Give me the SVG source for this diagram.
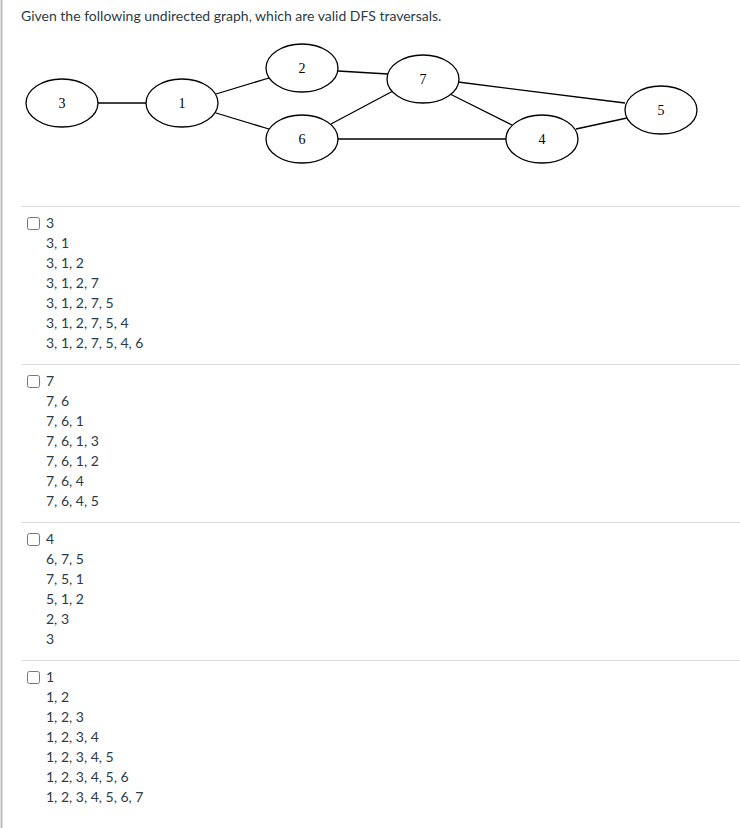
<svg xmlns="http://www.w3.org/2000/svg" width="740" height="828" viewBox="0 0 740 828">
<style>
.n ellipse{fill:#fff;stroke:#000;stroke-width:1.3}
.n text{font-family:"Liberation Serif",serif;font-size:14px;text-anchor:middle}
.t{font-family:Lato,"Liberation Sans",sans-serif;font-size:14px;fill:#2d3b45}
.sep{stroke:#dcdcdc;stroke-width:1}
.cb{fill:#fff;stroke:#777;stroke-width:1;}
</style>
<rect width="740" height="828" fill="#fff"/>
<line x1="1.5" y1="0" x2="1.5" y2="828" stroke="#bbb" stroke-width="2"/>
<text class="t" x="21" y="21" font-size="15">Given the following undirected graph, which are valid DFS traversals.</text>
<g id="connectors" stroke="#000" stroke-width="1.3">
<line x1="98" y1="103" x2="146" y2="103"/>
<line x1="216" y1="94" x2="269" y2="78"/>
<line x1="216" y1="113" x2="269" y2="129"/>
<line x1="338" y1="71" x2="388" y2="74"/>
<line x1="458" y1="82" x2="625" y2="103"/>
<line x1="331" y1="124" x2="393" y2="91"/>
<line x1="338" y1="139" x2="506" y2="139"/>
<line x1="450" y1="94" x2="512" y2="125"/>
<line x1="576" y1="129" x2="627" y2="118"/>
</g>
<g id="n3" class="n"><ellipse cx="62" cy="103" rx="36" ry="24"/><text x="62" y="108">3</text></g>
<g id="n1" class="n"><ellipse cx="182" cy="103" rx="36" ry="24"/><text x="182" y="108">1</text></g>
<g id="n2" class="n"><ellipse cx="302" cy="68" rx="36" ry="24"/><text x="302" y="73">2</text></g>
<g id="n6" class="n"><ellipse cx="302" cy="139" rx="36" ry="24"/><text x="302" y="144">6</text></g>
<g id="n7" class="n"><ellipse cx="423" cy="79" rx="36" ry="24"/><text x="423" y="84">7</text></g>
<g id="n4" class="n"><ellipse cx="542" cy="139" rx="36" ry="24"/><text x="542" y="144">4</text></g>
<g id="n5" class="n"><ellipse cx="661" cy="110" rx="36" ry="24"/><text x="661" y="115">5</text></g>
<g id="options">
<line class="sep" x1="21" y1="206.5" x2="740" y2="206.5"/>
<line class="sep" x1="21" y1="364.5" x2="740" y2="364.5"/>
<line class="sep" x1="21" y1="522.5" x2="740" y2="522.5"/>
<line class="sep" x1="21" y1="660.5" x2="740" y2="660.5"/>
<rect class="cb" x="27.5" y="217.5" width="12" height="12" rx="2"/>
<rect class="cb" x="27.5" y="375.5" width="12" height="12" rx="2"/>
<rect class="cb" x="27.5" y="533.5" width="12" height="12" rx="2"/>
<rect class="cb" x="27.5" y="671.5" width="12" height="12" rx="2"/>
<text class="t" x="46" y="228">3</text>
<text class="t" x="46" y="248">3, 1</text>
<text class="t" x="46" y="268">3, 1, 2</text>
<text class="t" x="46" y="288">3, 1, 2, 7</text>
<text class="t" x="46" y="308">3, 1, 2, 7, 5</text>
<text class="t" x="46" y="328">3, 1, 2, 7, 5, 4</text>
<text class="t" x="46" y="348">3, 1, 2, 7, 5, 4, 6</text>
<text class="t" x="46" y="386">7</text>
<text class="t" x="46" y="406">7, 6</text>
<text class="t" x="46" y="426">7, 6, 1</text>
<text class="t" x="46" y="446">7, 6, 1, 3</text>
<text class="t" x="46" y="466">7, 6, 1, 2</text>
<text class="t" x="46" y="486">7, 6, 4</text>
<text class="t" x="46" y="506">7, 6, 4, 5</text>
<text class="t" x="46" y="544">4</text>
<text class="t" x="46" y="564">6, 7, 5</text>
<text class="t" x="46" y="584">7, 5, 1</text>
<text class="t" x="46" y="604">5, 1, 2</text>
<text class="t" x="46" y="624">2, 3</text>
<text class="t" x="46" y="644">3</text>
<text class="t" x="46" y="682">1</text>
<text class="t" x="46" y="702">1, 2</text>
<text class="t" x="46" y="722">1, 2, 3</text>
<text class="t" x="46" y="742">1, 2, 3, 4</text>
<text class="t" x="46" y="762">1, 2, 3, 4, 5</text>
<text class="t" x="46" y="782">1, 2, 3, 4, 5, 6</text>
<text class="t" x="46" y="802">1, 2, 3, 4, 5, 6, 7</text>
</g>
</svg>
